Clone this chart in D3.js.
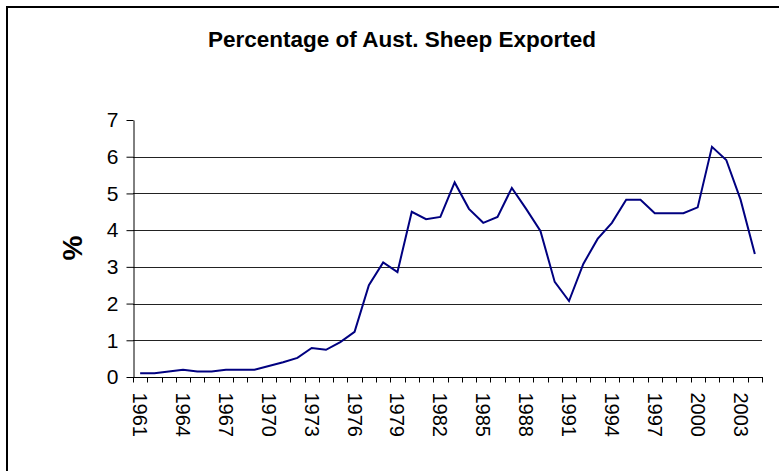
<!DOCTYPE html>
<html>
<head>
<meta charset="utf-8">
<script src="https://cdn.jsdelivr.net/npm/d3@7"></script>
<style>
  html, body { margin: 0; padding: 0; background: #fff; }
  svg { display: block; font-family: Arial, "Liberation Sans", sans-serif; }
</style>
</head>
<body>
<svg id="chart" width="779" height="471"></svg>
<script>
// Share of the Australian sheep flock exported live, by year
const years = d3.range(1961, 2005);
const percentExported = [
  0.10, 0.10, 0.15, 0.20, 0.15, 0.15, 0.20, 0.20, 0.20, 0.30,
  0.40, 0.52, 0.79, 0.74, 0.95, 1.23, 2.50, 3.12, 2.86, 4.50,
  4.30, 4.36, 5.30, 4.58, 4.20, 4.36, 5.15, 4.58, 3.98, 2.59,
  2.07, 3.08, 3.76, 4.20, 4.83, 4.83, 4.46, 4.46, 4.46, 4.62,
  6.27, 5.91, 4.83, 3.35
];
const yTicks = [0, 1, 2, 3, 4, 5, 6, 7];
const labelYears = years.filter((y, i) => i % 3 === 0);

const svg = d3.select("#chart");

// Chart frame
svg.append("rect")
  .attr("x", 7).attr("y", 7)
  .attr("width", 800).attr("height", 500)
  .attr("fill", "#fff")
  .attr("stroke", "#000")
  .attr("stroke-width", 2);

const plot = { left: 133, right: 762, top: 120, bottom: 377 };

const x = d3.scaleBand()
  .domain(years)
  .range([plot.left, plot.right])
  .paddingInner(0).paddingOuter(0);

const y = d3.scaleLinear()
  .domain([0, 7])
  .range([plot.bottom, plot.top]);

// Title
svg.append("text")
  .attr("x", 402).attr("y", 47)
  .attr("text-anchor", "middle")
  .attr("font-size", 22.5)
  .attr("font-weight", "bold")
  .text("Percentage of Aust. Sheep Exported");

// Horizontal gridlines
svg.append("g")
  .selectAll("line")
  .data(yTicks.filter(t => t > 0 && t < 7))
  .join("line")
  .attr("x1", plot.left).attr("x2", plot.right)
  .attr("y1", d => Math.round(y(d)) + 0.5)
  .attr("y2", d => Math.round(y(d)) + 0.5)
  .attr("stroke", "#222")
  .attr("stroke-width", 1);

// Y axis
const yAxis = svg.append("g")
  .attr("transform", `translate(${plot.left + 0.5},0)`)
  .call(d3.axisLeft(y).tickValues(yTicks).tickFormat(d3.format("d"))
    .tickSize(7).tickPadding(8).tickSizeOuter(0));
yAxis.select(".domain").attr("stroke", "#000");
yAxis.selectAll(".tick line").attr("stroke", "#000");
yAxis.selectAll(".tick text")
  .attr("font-size", 21)
  .attr("font-family", "Arial, 'Liberation Sans', sans-serif")
  .attr("fill", "#000");

// X axis: ticks sit on category boundaries, labels every third year
const xAxisG = svg.append("g")
  .attr("transform", `translate(0,${Math.round(plot.bottom) + 0.5})`);
xAxisG.append("line")
  .attr("x1", plot.left).attr("x2", plot.right + 1)
  .attr("stroke", "#000");
const boundaries = years.map(yr => x(yr)).concat([plot.right]);
xAxisG.selectAll("line.tick")
  .data(boundaries)
  .join("line")
  .attr("class", "tick")
  .attr("x1", d => Math.round(d) + 0.5).attr("x2", d => Math.round(d) + 0.5)
  .attr("y1", 0).attr("y2", 5)
  .attr("stroke", "#000");
xAxisG.selectAll("text")
  .data(labelYears)
  .join("text")
  .attr("transform", d => `translate(${x(d) + x.bandwidth() / 2},15) rotate(90)`)
  .attr("dy", "0.35em")
  .attr("text-anchor", "start")
  .attr("font-size", 20)
  .attr("fill", "#000")
  .text(d => d);

// Y axis title
svg.append("text")
  .attr("transform", "translate(82,248) rotate(-90)")
  .attr("text-anchor", "middle")
  .attr("font-size", 28)
  .attr("font-weight", "bold")
  .text("%");

// Series line
const line = d3.line()
  .x((d, i) => x(years[i]) + x.bandwidth() / 2)
  .y(d => y(d));

svg.append("path")
  .datum(percentExported)
  .attr("d", line)
  .attr("fill", "none")
  .attr("stroke", "#000080")
  .attr("stroke-width", 2)
  .attr("stroke-linejoin", "miter");
</script>
</body>
</html>
